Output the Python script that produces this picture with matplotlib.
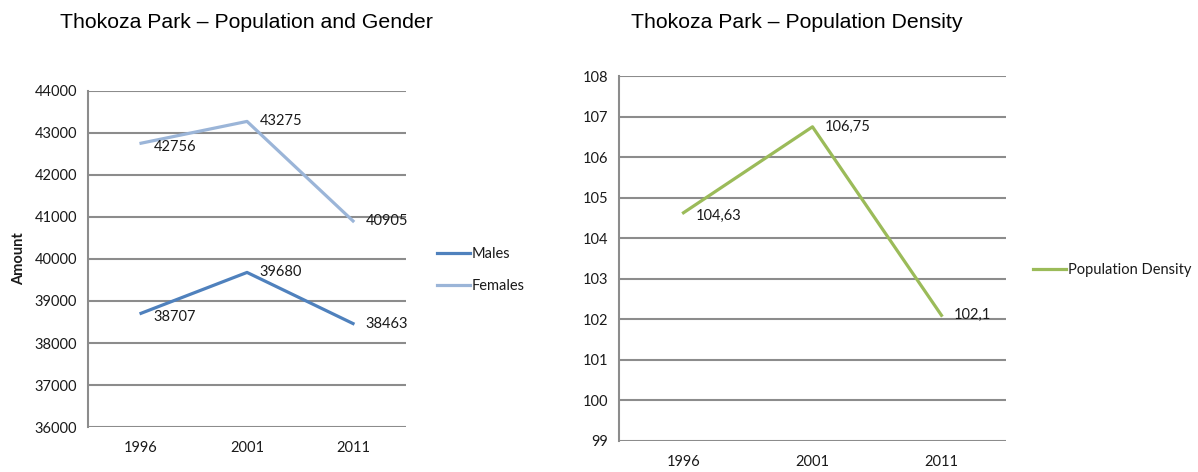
import numpy as np
import matplotlib
matplotlib.use("Agg")
import matplotlib.pyplot as plt

# data
years = ["1996", "2001", "2011"]
males = [38707, 39680, 38463]
females = [42756, 43275, 40905]
density = [104.63, 106.75, 102.1]
density_labels = ["104,63", "106,75", "102,1"]

male_color = "#4f81bd"
female_color = "#9bb5d8"
density_color = "#9bbb59"
grid_color = "#8c8c8c"
text_color = "#1a1a1a"
fs = 10.5

plt.rcParams['font.family'] = ['Lato', 'DejaVu Sans']


# common look of both panels: gray horizontal grid, gray left spine, no ticks
def style_axes(ax):
	for side in ["top", "right", "bottom"]:
		ax.spines[side].set_visible(False)
	ax.spines["left"].set_color(grid_color)
	ax.spines["left"].set_linewidth(1.5)
	ax.yaxis.grid(True, color=grid_color, linewidth=1.5)
	ax.set_axisbelow(True)
	ax.tick_params(length=0, labelsize=fs, colors=text_color)
	ax.tick_params(axis="y", pad=8)
	ax.tick_params(axis="x", pad=10)
	ax.set_xlim(-0.5, len(years) - 0.5)


# puts a value label right of each point
def label_points(ax, x, values, texts, offsets):
	for xi, v, t, off in zip(x, values, texts, offsets):
		ax.annotate(t, (xi, v), xytext=off, textcoords="offset points",
			    ha="left", va="center", fontsize=fs, color=text_color)


fig = plt.figure(figsize=(11.98, 4.72), dpi=100)
x = np.arange(len(years))

# left panel: population and gender
ax1 = fig.add_axes([0.0735, 0.0953, 0.2654, 0.712])
ax1.plot(x, males, color=male_color, linewidth=2.3, label="Males")
ax1.plot(x, females, color=female_color, linewidth=2.3, label="Females")
ax1.set_ylim(36000, 44000)
ax1.set_yticks(np.arange(36000, 44001, 1000))
ax1.set_xticks(x)
ax1.set_xticklabels(years)
style_axes(ax1)
ax1.set_ylabel("Amount", fontsize=fs, fontweight="bold", labelpad=6, color=text_color)
label_points(ax1, x, males, [str(v) for v in males], [(9, -3), (9, 0), (9, 0)])
label_points(ax1, x, females, [str(v) for v in females], [(9, -3), (9, 0), (9, 0)])
ax1.legend(loc="center left", bbox_to_anchor=(1.055, 0.467), frameon=False,
	   fontsize=fs, handlelength=2.3, handletextpad=0.1, labelspacing=1.25,
	   labelcolor=text_color)
fig.text(0.05, 0.952, "Thokoza Park \u2013 Population and Gender",
	 fontsize=15.3, family="Liberation Sans", va="center")

# right panel: population density
ax2 = fig.add_axes([0.5167, 0.0657, 0.323, 0.773])
ax2.plot(x, density, color=density_color, linewidth=2.3, label="Population Density")
ax2.set_ylim(99, 108)
ax2.set_yticks(np.arange(99, 109, 1))
ax2.set_xticks(x)
ax2.set_xticklabels(years)
style_axes(ax2)
label_points(ax2, x, density, density_labels, [(9, -2), (9, 0), (9, 0)])
ax2.legend(loc="center left", bbox_to_anchor=(1.035, 0.468), frameon=False,
	   fontsize=fs, handlelength=2.3, handletextpad=0.1, labelcolor=text_color)
fig.text(0.527, 0.952, "Thokoza Park \u2013 Population Density",
	 fontsize=15.3, family="Liberation Sans", va="center")

fig.savefig("out.png", dpi=100)
plt.close()
